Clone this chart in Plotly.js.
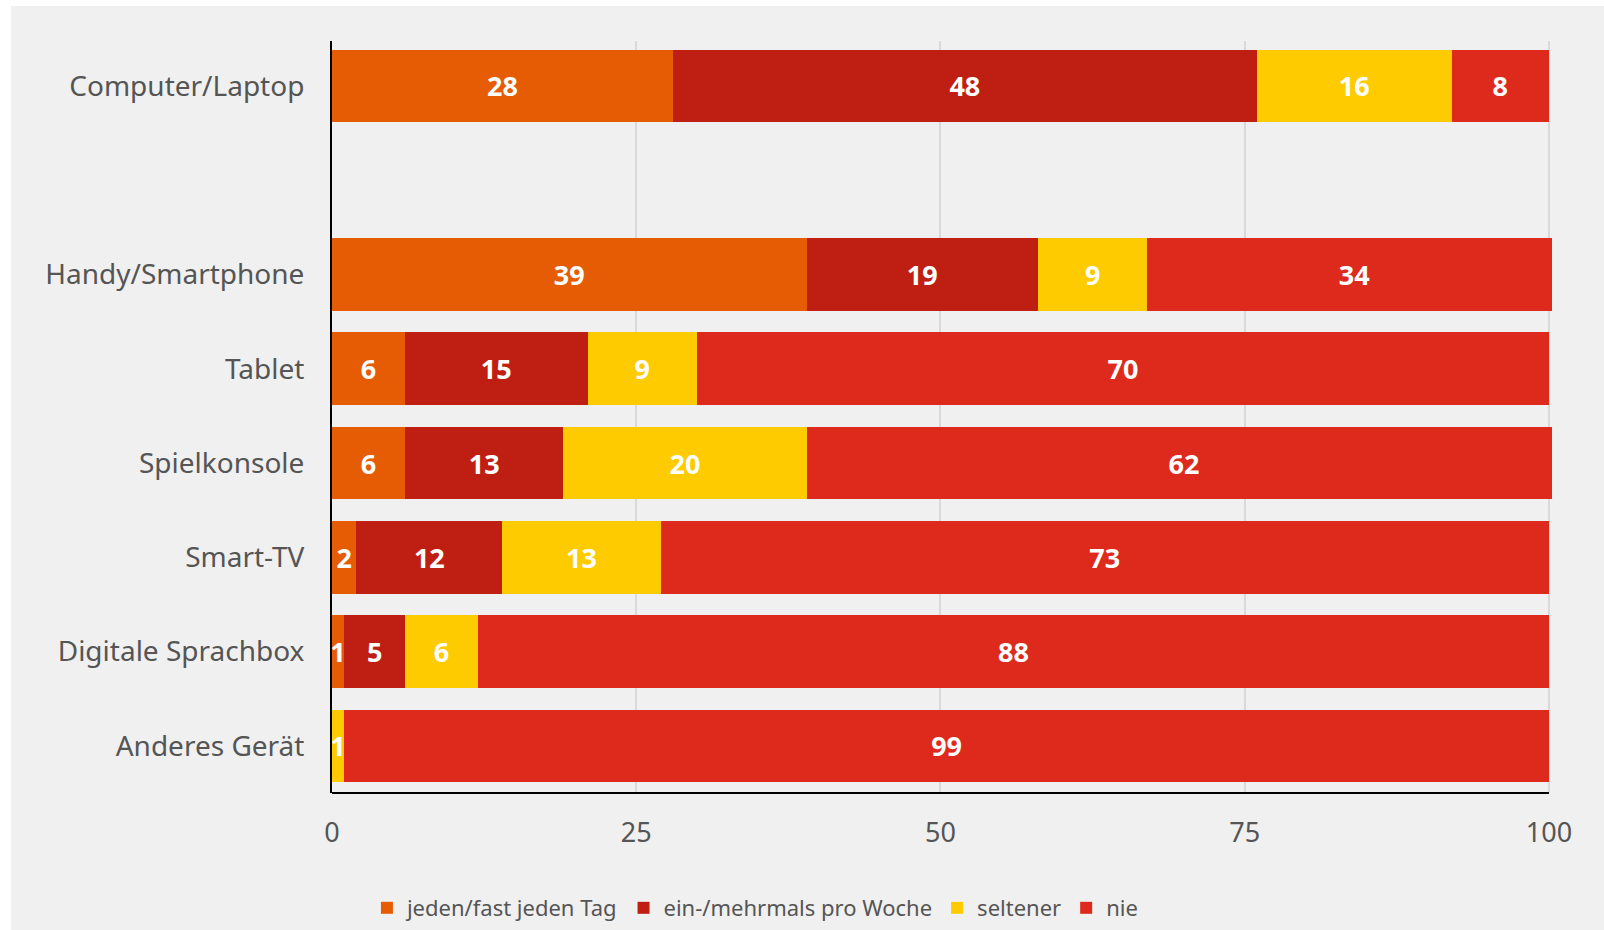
<!DOCTYPE html>
<html>
<head>
<meta charset="utf-8">
<script src="https://cdn.plot.ly/plotly-3.0.1.min.js"></script>
<style>
html,body{margin:0;padding:0;background:#ffffff;}
#chart{position:absolute;left:11px;top:6px;width:1593px;height:924px;}
</style>
</head>
<body>
<div id="chart"></div>
<script>
// Categories (bottom to top); ' ' is the empty slot between Computer/Laptop and Handy/Smartphone
var categories = ['Anderes Gerät', 'Digitale Sprachbox', 'Smart-TV', 'Spielkonsole', 'Tablet', 'Handy/Smartphone', ' ', 'Computer/Laptop'];
var devices = ['Anderes Gerät', 'Digitale Sprachbox', 'Smart-TV', 'Spielkonsole', 'Tablet', 'Handy/Smartphone', 'Computer/Laptop'];

var seriesNames = ['jeden/fast jeden Tag', 'ein-/mehrmals pro Woche', 'seltener', 'nie'];
var daily   = [0, 1, 2, 6, 6, 39, 28];
var weekly  = [0, 5, 12, 13, 15, 19, 48];
var rarely  = [1, 6, 13, 20, 9, 9, 16];
var never   = [99, 88, 73, 62, 70, 34, 8];

var xTicks = [0, 25, 50, 75, 100];

var colors = ['#E65C05', '#BE1F12', '#FECB00', '#DE2A1C'];
var seriesValues = [daily, weekly, rarely, never];

var labelFont = 'Noto Sans, Open Sans, sans-serif';

var traces = seriesValues.map(function (vals, i) {
  return {
    type: 'bar',
    orientation: 'h',
    name: seriesNames[i],
    y: devices,
    x: vals,
    text: vals.map(function (v) { return v ? String(v) : ''; }),
    textposition: 'inside',
    insidetextanchor: 'middle',
    textangle: 0,
    constraintext: 'none',
    textfont: { family: labelFont, size: 27, color: '#ffffff', weight: 'bold' },
    marker: { color: colors[i], line: { width: 0 } },
    hoverinfo: 'x+y+name'
  };
});

var layout = {
  barmode: 'stack',
  bargap: 0.23,
  paper_bgcolor: '#f0f0f0',
  plot_bgcolor: '#f0f0f0',
  margin: { l: 321, r: 52, t: 35, b: 137 },
  font: { family: labelFont, color: '#555555' },
  uniformtext: { minsize: 26, mode: 'show' },
  xaxis: {
    range: [0, 100.25],
    tickvals: xTicks,
    ticktext: xTicks.map(String),
    tickfont: { family: labelFont, size: 27, color: '#555555' },
    ticks: 'outside',
    ticklen: 16,
    tickcolor: 'rgba(0,0,0,0)',
    showgrid: true,
    gridcolor: '#d9d9d9',
    gridwidth: 1.5,
    zeroline: false,
    showline: false,
    fixedrange: true
  },
  yaxis: {
    type: 'category',
    categoryorder: 'array',
    categoryarray: categories,
    range: [-0.5, 7.476],
    tickfont: { family: labelFont, size: 28, color: '#555555' },
    ticks: 'outside',
    ticklen: 20,
    tickcolor: 'rgba(0,0,0,0)',
    showgrid: false,
    zeroline: false,
    showline: true,
    linecolor: '#000000',
    linewidth: 2,
    fixedrange: true
  },
  shapes: [{
    type: 'line', xref: 'x', yref: 'paper',
    x0: 0, x1: 100, y0: 0, y1: 0,
    line: { color: '#000000', width: 2 },
    layer: 'above'
  }],
  showlegend: true,
  legend: {
    orientation: 'h',
    xref: 'container',
    yref: 'container',
    x: 0.467,
    xanchor: 'center',
    y: 0.0238,
    yanchor: 'middle',
    font: { family: labelFont, size: 22, color: '#555555' },
    itemwidth: 30,
    traceorder: 'normal',
    bgcolor: 'rgba(0,0,0,0)'
  }
};

Plotly.newPlot('chart', traces, layout, { displayModeBar: false });
</script>
</body>
</html>
